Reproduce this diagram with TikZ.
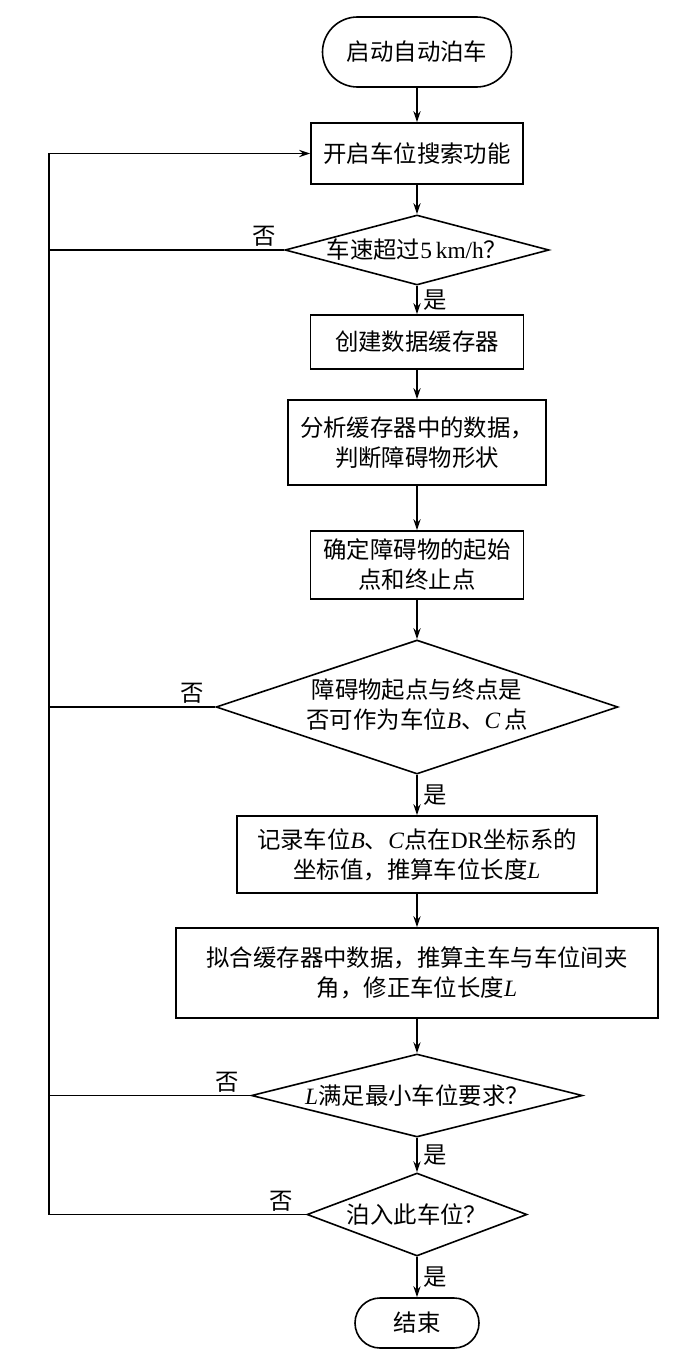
\documentclass[tikz,border=0pt]{standalone}
\usepackage{fontspec}
\setmainfont{Liberation Serif}
\newfontfamily\cjk{Noto Sans CJK SC}
\newfontfamily\lat{Liberation Serif}
\usetikzlibrary{shapes.geometric,shapes.misc,arrows.meta}
\newcommand\zb[1]{\hbox to 0pt{\hss\vbox to 0pt{\vss\hbox{#1}\vss}\hss}}
\newcommand\li[1]{{\lat\itshape #1}}
\begin{document}
\begin{tikzpicture}[x=0.5pt,y=-0.5pt,
  txt/.style={font=\cjk\fontsize{11.7pt}{15pt}\selectfont},
  base/.style={txt, draw, line width=0.8pt, align=center, inner sep=0pt},
  proc/.style={base, rectangle},
  term/.style={base, rounded rectangle},
  dec/.style={base, diamond},
  arr/.style={line width=0.8pt, -{Stealth[length=5.5pt,width=3.6pt]}},
  link/.style={line width=0.8pt},
  yes/.style={txt, anchor=west, inner sep=0pt, xshift=3pt},
  no/.style={txt, anchor=south east, inner sep=0pt},
]
\useasboundingbox (0,0) rectangle (700,1365);

\node[term, minimum width=94.5pt, minimum height=35pt] (start) at (417,52) {启动自动泊车};
\node[proc, minimum width=106pt, minimum height=30.5pt] (b1) at (417,153.5) {开启车位搜索功能};
\node[dec, minimum width=132pt, minimum height=35pt] (d1) at (417,250)
  {\zb{车速超过{\lat 5\,km/h}？}};
\node[proc, minimum width=106.5pt, minimum height=27pt] (b2) at (417,342) {创建数据缓存器};
\node[proc, minimum width=129pt, minimum height=42.5pt] (b3) at (417,442.5) {分析缓存器中的数据，\\判断障碍物形状};
\node[proc, minimum width=106.5pt, minimum height=34pt] (b4) at (417,565) {确定障碍物的起始\\点和终止点};
\node[dec, minimum width=201pt, minimum height=67pt] (d2) at (417,707)
  {\zb{\begin{tabular}{@{}c@{}}障碍物起点与终点是\\否可作为车位\li{B}、\li{C}\,点\end{tabular}}};
\node[proc, minimum width=180pt, minimum height=38.5pt] (b5) at (417,854.5)
  {记录车位\li{B}、\li{C}点在{\lat DR}坐标系的\\坐标值，推算车位长度\li{L}};
\node[proc, minimum width=241pt, minimum height=45pt] (b6) at (417,973)
  {拟合缓存器中数据，推算主车与车位间夹\\角，修正车位长度\li{L}};
\node[dec, minimum width=165.5pt, minimum height=41.5pt] (d3) at (417,1095.5)
  {\zb{\li{L}满足最小车位要求？}};
\node[dec, minimum width=110pt, minimum height=41.5pt] (d4) at (417,1214.5)
  {\zb{泊入此车位？}};
\node[term, minimum width=62pt, minimum height=25pt] (end) at (417,1323) {结束};

\coordinate (lt) at (49,153.5);
\coordinate (lb) at (49,1214.5);

\draw[arr] (start) -- (b1);
\draw[arr] (b1) -- (d1);
\draw[arr] (d1) -- node[yes]{是} (b2);
\draw[arr] (b2) -- (b3);
\draw[arr] (b3) -- (b4);
\draw[arr] (b4) -- (d2);
\draw[arr] (d2) -- node[yes]{是} (b5);
\draw[arr] (b5) -- (b6);
\draw[arr] (b6) -- (d3);
\draw[arr] (d3) -- node[yes]{是} (d4);
\draw[arr] (d4) -- node[yes]{是} (end);

\draw[arr] (d4.west) -- (lb) -- (lt) -- (b1.west);
\draw[link] (d1.west) -- (d1.west -| lt);
\draw[link] (d2.west) -- (d2.west -| lt);
\draw[link] (d3.west) -- (d3.west -| lt);

\node[no] (n1) at ([shift={(-8,-3)}]d1.west) {否};
\node[no] (n2) at ([shift={(-11,-3)}]d2.west) {否};
\node[no] (n3) at ([shift={(-11,-3)}]d3.west) {否};
\node[no] (n4) at ([shift={(-13,-3)}]d4.west) {否};
\end{tikzpicture}
\end{document}
